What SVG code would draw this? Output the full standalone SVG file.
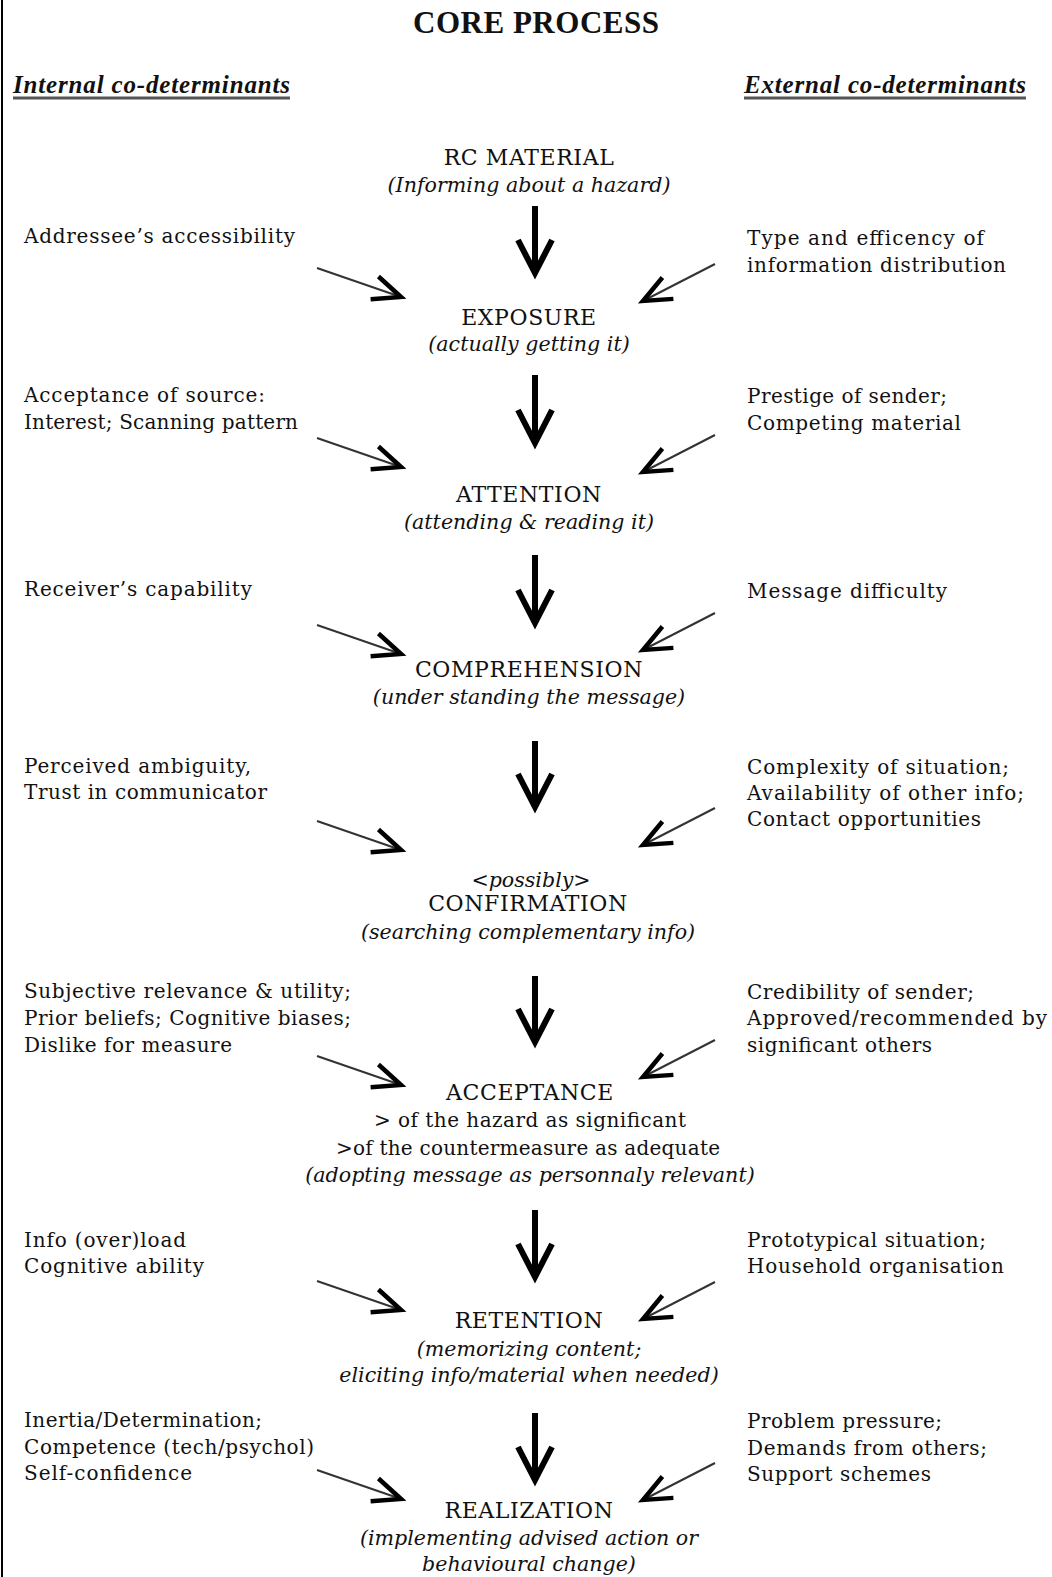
<svg xmlns="http://www.w3.org/2000/svg" width="1052" height="1577" viewBox="0 0 1052 1577">
<style>
text { font-family: "DejaVu Serif", "Liberation Serif", serif; fill: #111; }
.title { font-family: "Liberation Serif", serif; font-weight: bold; font-size: 31px; }
.hdr { font-family: "Liberation Serif", serif; font-weight: bold; font-style: italic; font-size: 25px; }
.cap { font-size: 22px; text-anchor: middle; letter-spacing: 0.6px; }
.it { font-size: 20.6px; font-style: italic; text-anchor: middle; }
.side { font-size: 20px; }
.vert { stroke: #000; stroke-width: 6; fill: none; }
.diag { stroke: #333; stroke-width: 2; fill: none; }
.uline { stroke: #555; stroke-width: 3; }
</style>
<defs>
<marker id="vhead" markerUnits="userSpaceOnUse" viewBox="-45 -25 55 50" markerWidth="55" markerHeight="50" refX="0" refY="0" orient="auto" overflow="visible">
<path d="M-33,-17 L0,0 L-33,17" fill="none" stroke="#000" stroke-width="6"/>
</marker>
<marker id="dhead" markerUnits="userSpaceOnUse" viewBox="-40 -20 50 40" markerWidth="50" markerHeight="40" refX="0" refY="0" orient="auto" overflow="visible">
<path d="M-28,-12 L0,0 L-28,12" fill="none" stroke="#000" stroke-width="4.5"/>
</marker>
</defs>
<rect width="1052" height="1577" fill="#fff"/>
<line x1="2" y1="0" x2="2" y2="1577" stroke="#000" stroke-width="2"/>

<g id="title">
<text class="title" x="536" y="33" text-anchor="middle" textLength="246">CORE PROCESS</text>
</g>
<g id="header-internal">
<text class="hdr" x="13" y="93" textLength="277">Internal co-determinants</text>
<line class="uline" x1="13" y1="98" x2="290" y2="98"/>
</g>
<g id="header-external">
<text class="hdr" x="744" y="93" textLength="282">External co-determinants</text>
<line class="uline" x1="744" y1="98" x2="1026" y2="98"/>
</g>

<g id="rc-material">
<text class="cap" x="529" y="165">RC MATERIAL</text>
<text class="it" x="529" y="192">(Informing about a hazard)</text>
</g>
<g id="exposure">
<text class="cap" x="529" y="325">EXPOSURE</text>
<text class="it" x="529" y="351">(actually getting it)</text>
</g>
<g id="attention">
<text class="cap" x="529" y="502">ATTENTION</text>
<text class="it" x="529" y="529">(attending &amp; reading it)</text>
</g>
<g id="comprehension">
<text class="cap" x="529" y="677">COMPREHENSION</text>
<text class="it" x="529" y="704">(under standing the message)</text>
</g>
<g id="confirmation">
<text class="it" x="531" y="887">&lt;possibly&gt;</text>
<text class="cap" x="528" y="911">CONFIRMATION</text>
<text class="it" x="528" y="939">(searching complementary info)</text>
</g>
<g id="acceptance">
<text class="cap" x="530" y="1100">ACCEPTANCE</text>
<text class="side" x="530" y="1127" text-anchor="middle" textLength="312">&gt;  of the hazard as significant</text>
<text class="side" x="528" y="1155" text-anchor="middle" textLength="384">&gt;of the countermeasure as adequate</text>
<text class="it" x="530" y="1182">(adopting message as personnaly relevant)</text>
</g>
<g id="retention">
<text class="cap" x="529" y="1328">RETENTION</text>
<text class="it" x="529" y="1356">(memorizing content;</text>
<text class="it" x="529" y="1382">eliciting info/material when needed)</text>
</g>
<g id="realization">
<text class="cap" x="529" y="1518">REALIZATION</text>
<text class="it" x="529" y="1545">(implementing advised action or</text>
<text class="it" x="529" y="1571">behavioural change)</text>
</g>

<g id="internal-factors">
<text class="side" x="24" y="243" textLength="271">Addressee’s accessibility</text>
<text class="side" x="24" y="402" textLength="241">Acceptance of source:</text>
<text class="side" x="24" y="429" textLength="274">Interest; Scanning pattern</text>
<text class="side" x="24" y="596" textLength="228">Receiver’s capability</text>
<text class="side" x="24" y="773" textLength="227">Perceived ambiguity,</text>
<text class="side" x="24" y="799" textLength="243">Trust in communicator</text>
<text class="side" x="24" y="998" textLength="327">Subjective relevance &amp; utility;</text>
<text class="side" x="24" y="1025" textLength="327">Prior beliefs; Cognitive biases;</text>
<text class="side" x="24" y="1052" textLength="208">Dislike for measure</text>
<text class="side" x="24" y="1247" textLength="162">Info (over)load</text>
<text class="side" x="24" y="1273" textLength="180">Cognitive ability</text>
<text class="side" x="24" y="1427" textLength="238">Inertia/Determination;</text>
<text class="side" x="24" y="1454" textLength="290">Competence (tech/psychol)</text>
<text class="side" x="24" y="1480" textLength="168">Self-confidence</text>
</g>

<g id="external-factors">
<text class="side" x="747" y="245" textLength="237">Type and efficency of</text>
<text class="side" x="747" y="272" textLength="259">information distribution</text>
<text class="side" x="747" y="403" textLength="200">Prestige of sender;</text>
<text class="side" x="747" y="430" textLength="214">Competing material</text>
<text class="side" x="747" y="598" textLength="200">Message difficulty</text>
<text class="side" x="747" y="774" textLength="262">Complexity of situation;</text>
<text class="side" x="747" y="800" textLength="277">Availability of other info;</text>
<text class="side" x="747" y="826" textLength="234">Contact opportunities</text>
<text class="side" x="747" y="999" textLength="227">Credibility of sender;</text>
<text class="side" x="747" y="1025" textLength="300">Approved/recommended by</text>
<text class="side" x="747" y="1052" textLength="185">significant others</text>
<text class="side" x="747" y="1247" textLength="239">Prototypical situation;</text>
<text class="side" x="747" y="1273" textLength="257">Household organisation</text>
<text class="side" x="747" y="1428" textLength="195">Problem pressure;</text>
<text class="side" x="747" y="1455" textLength="240">Demands from others;</text>
<text class="side" x="747" y="1481" textLength="184">Support schemes</text>
</g>

<g id="connectors">
<line class="vert" x1="535" y1="206" x2="535" y2="273" marker-end="url(#vhead)"/>
<line class="vert" x1="535" y1="375" x2="535" y2="443" marker-end="url(#vhead)"/>
<line class="vert" x1="535" y1="555" x2="535" y2="623" marker-end="url(#vhead)"/>
<line class="vert" x1="535" y1="741" x2="535" y2="807" marker-end="url(#vhead)"/>
<line class="vert" x1="535" y1="976" x2="535" y2="1042" marker-end="url(#vhead)"/>
<line class="vert" x1="535" y1="1210" x2="535" y2="1277" marker-end="url(#vhead)"/>
<line class="vert" x1="535" y1="1413" x2="535" y2="1480" marker-end="url(#vhead)"/>

<line class="diag" x1="317" y1="268" x2="401" y2="297" marker-end="url(#dhead)"/>
<line class="diag" x1="317" y1="438" x2="401" y2="467" marker-end="url(#dhead)"/>
<line class="diag" x1="317" y1="625" x2="401" y2="654" marker-end="url(#dhead)"/>
<line class="diag" x1="317" y1="821" x2="401" y2="850" marker-end="url(#dhead)"/>
<line class="diag" x1="317" y1="1056" x2="401" y2="1085" marker-end="url(#dhead)"/>
<line class="diag" x1="317" y1="1281" x2="401" y2="1310" marker-end="url(#dhead)"/>
<line class="diag" x1="317" y1="1470" x2="401" y2="1499" marker-end="url(#dhead)"/>

<line class="diag" x1="715" y1="264" x2="643" y2="301" marker-end="url(#dhead)"/>
<line class="diag" x1="715" y1="435" x2="643" y2="472" marker-end="url(#dhead)"/>
<line class="diag" x1="715" y1="613" x2="643" y2="650" marker-end="url(#dhead)"/>
<line class="diag" x1="715" y1="808" x2="643" y2="845" marker-end="url(#dhead)"/>
<line class="diag" x1="715" y1="1040" x2="643" y2="1077" marker-end="url(#dhead)"/>
<line class="diag" x1="715" y1="1282" x2="643" y2="1319" marker-end="url(#dhead)"/>
<line class="diag" x1="715" y1="1463" x2="643" y2="1500" marker-end="url(#dhead)"/>
</g>
</svg>
